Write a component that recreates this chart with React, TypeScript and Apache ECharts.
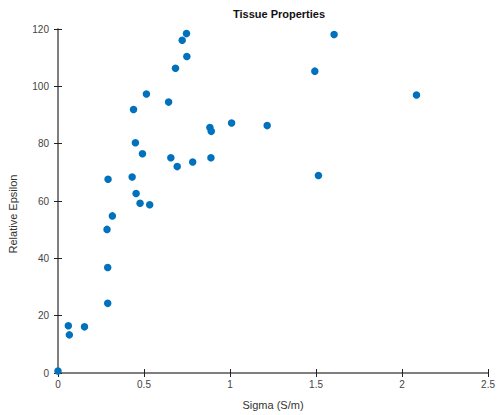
import React, { useEffect, useRef } from "react";
import * as echarts from "echarts";

const sigma = [
  0.747, 0.722, 0.749, 0.683, 0.514, 0.643, 0.439, 0.883, 0.891, 1.009,
  0.45, 0.491, 0.656, 0.889, 0.693, 0.783, 0.291, 0.431, 0.454, 0.477,
  0.533, 1.605, 1.493, 2.084, 1.216, 1.514, 0.316, 0.285, 0.289, 0.289,
  0.06, 0.066, 0.154, 0.0,
];
const epsilon = [
  118.4, 116.1, 110.4, 106.3, 97.3, 94.5, 91.9, 85.6, 84.3, 87.2,
  80.3, 76.5, 75.1, 75.1, 72.0, 73.6, 67.6, 68.4, 62.6, 59.2,
  58.7, 118.1, 105.3, 97.0, 86.3, 68.9, 54.8, 50.1, 36.8, 24.3,
  16.5, 13.3, 16.1, 0.7,
];
const xTicks = [0, 0.5, 1, 1.5, 2, 2.5];
const yTicks = [0, 20, 40, 60, 80, 100, 120];

const FONT = "Liberation Sans, Arial, Helvetica, sans-serif";

export default function App() {
  const ref = useRef<HTMLDivElement>(null);
  useEffect(() => {
    if (!ref.current) return;
    const chart = echarts.init(ref.current, undefined, { renderer: "svg" });
    const axisLine = { show: true, lineStyle: { color: "#777", width: 1.5 } };
    const tick = { show: true, inside: true, length: 4, lineStyle: { color: "#222", width: 1 } };
    chart.setOption({
      animation: false,
      title: {
        text: "Tissue Properties",
        left: 274,
        top: 3,
        textAlign: "center",
        textStyle: { fontFamily: FONT, fontSize: 11, fontWeight: "bold", color: "#111" },
      },
      graphic: [
        {
          type: "text",
          x: 13,
          y: 214,
          rotation: Math.PI / 2,
          style: {
            text: "Relative Epsilon",
            fontFamily: FONT,
            fontSize: 11,
            fill: "#333",
            align: "center",
            verticalAlign: "middle",
          },
        },
      ],
      grid: { left: 58, top: 29, right: 7, bottom: 41, containLabel: false },
      xAxis: [
        {
          type: "value",
          min: xTicks[0],
          max: xTicks[xTicks.length - 1],
          interval: 0.5,
          name: "Sigma (S/m)",
          nameLocation: "middle",
          nameGap: 26,
          nameTextStyle: { fontFamily: FONT, fontSize: 11, color: "#333" },
          axisLine,
          axisTick: tick,
          splitLine: { show: false },
          axisLabel: {
            fontFamily: FONT,
            fontSize: 10,
            color: "#444",
            margin: 6,
            formatter: (v: number) => String(v),
          },
        },
        {
          type: "value",
          position: "top",
          min: xTicks[0],
          max: xTicks[xTicks.length - 1],
          interval: 0.5,
          axisLine,
          axisTick: tick,
          axisLabel: { show: false },
          splitLine: { show: false },
        },
      ],
      yAxis: [
        {
          type: "value",
          min: yTicks[0],
          max: yTicks[yTicks.length - 1],
          interval: 20,
          axisLine,
          axisTick: tick,
          splitLine: { show: false },
          axisLabel: { fontFamily: FONT, fontSize: 10, color: "#444", margin: 9 },
        },
        {
          type: "value",
          position: "right",
          min: yTicks[0],
          max: yTicks[yTicks.length - 1],
          interval: 20,
          axisLine,
          axisTick: tick,
          axisLabel: { show: false },
          splitLine: { show: false },
        },
      ],
      series: [
        {
          type: "scatter",
          xAxisIndex: 0,
          yAxisIndex: 0,
          data: sigma.map((s, i) => [s, epsilon[i]]),
          symbol: "circle",
          symbolSize: 7.5,
          itemStyle: { color: "#0072BD", opacity: 1 },
        },
      ],
    });
    return () => chart.dispose();
  }, []);
  return <div ref={ref} style={{ width: 498, height: 415, position: "absolute", left: 0, top: 0 }} />;
}
